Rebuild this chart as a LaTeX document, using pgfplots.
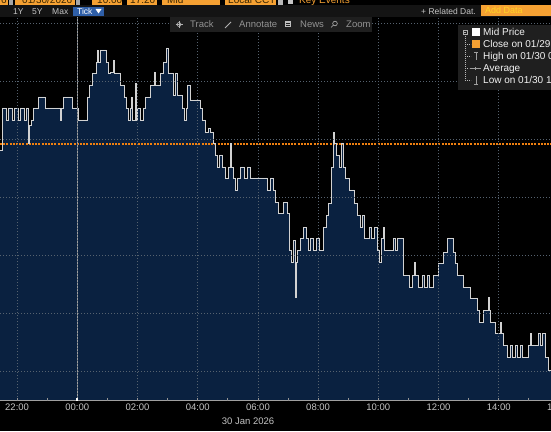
\documentclass[border=0pt]{standalone}
\usepackage{pgfplots}
\usepackage{pgfplotstable}
\pgfplotsset{compat=1.18}
\usepackage{fontspec}
\setmainfont{Liberation Sans}
\definecolor{bbnavy}{HTML}{0A2140}
\definecolor{bborange}{HTML}{F5A133}
\definecolor{bbclose}{HTML}{F08010}
\definecolor{bbline}{HTML}{D2D2D2}
\definecolor{bbgrid}{HTML}{56626F}
\definecolor{bbtext}{HTML}{C4C4C4}
\definecolor{bbbar}{HTML}{1F1F1F}
\definecolor{bbblue}{HTML}{2F5FA8}
\definecolor{bbrow}{HTML}{141414}
\definecolor{bbfieldtext}{HTML}{3A2600}

\pgfplotstableread{
x y
0 250
2 292
6 280
8 292
12 280
14 292
18 280
20 292
24 280
26 292
28 257
29 275
31 280
33 292
38 303
45 292
60 280
61 292
63 303
72 292
78 280
87 303
89 315
92 327
96 338
97 350
98 338
100 350
106 338
108 327
110 328
113 340
114 327
120 315
124 303
126 292
128 280
130 292
131 303
132 280
135 317
136 280
137 292
140 280
143 292
145 303
150 315
154 328
155 315
160 327
163 338
166 352
168 327
173 305
175 327
177 305
182 292
184 280
186 292
187 315
190 300
200 292
202 280
205 268
208 272
210 268
213 257
215 245
217 233
219 245
222 233
225 222
228 233
230 257
231 233
233 222
235 210
237 222
240 233
244 222
247 233
250 222
267 210
270 222
273 210
275 198
278 187
283 198
287 187
289 150
291 138
293 160
295 103
296 138
297 150
300 162
303 173
306 162
308 150
310 162
313 150
316 162
319 150
323 173
326 185
328 197
331 233
333 268
334 257
336 245
339 233
341 257
343 233
345 222
349 210
354 197
357 185
360 173
362 185
364 162
369 173
371 162
374 173
377 150
379 138
381 162
383 173
384 150
393 162
395 150
397 162
403 125
409 113
412 125
414 138
415 125
418 113
422 125
424 113
427 125
429 113
433 125
438 137
443 148
447 162
453 148
455 137
457 125
463 113
470 102
477 90
479 78
483 90
488 103
489 90
490 78
495 67
500 78
501 67
503 55
507 43
510 55
512 43
515 55
517 43
520 55
522 43
528 55
530 67
531 55
538 67
540 55
542 67
545 43
548 30
551 30
}\pricedata

\begin{document}
\begin{tikzpicture}[x=1bp,y=1bp]
\clip (0,0) rectangle (551,431);
\fill[black] (0,0) rectangle (551,431);
\begin{axis}[
  at={(0bp,31bp)}, anchor=south west,
  scale only axis, width=551bp, height=383bp,
  xmin=0, xmax=551, ymin=0, ymax=383,
  axis line style={draw=none},
  axis on top,
  xtick={17.1,77.3,137.5,197.7,257.9,318.1,378.3,438.5,498.7},
  xticklabels={22:00,00:00,02:00,04:00,06:00,08:00,10:00,12:00,14:00},
  minor xtick={47.2,107.4,167.6,227.8,288,348.2,408.4,468.6,528.8},
  xtick pos=bottom,
  tick align=inside,
  major tick length=3bp, minor tick length=3bp,
  every tick/.style={draw=none},
  ytick={29,87,145,203,261,319,377},
  yticklabels={},
  ytick style={draw=none},
  grid=major,
  major grid style={bbgrid, dash pattern=on 1bp off 2bp, line width=0.6bp},
  xticklabel style={font=\fontsize{9.5bp}{11bp}\selectfont, text=bbtext, inner sep=0pt, anchor=north, yshift=-4bp},
  /pgf/number format/assume math mode=true,
]
\addplot[fill=bbnavy, draw=none, const plot] table[x=x,y=y] {\pricedata} \closedcycle;
\addplot[draw=bbclose, dash pattern=on 2bp off 1.2bp, line width=1.7bp, mark=none] coordinates {(0,256.3) (551,256.3)};
\addplot[bbline, line width=0.8bp, const plot] table[x=x,y=y] {\pricedata};
\draw[gray!75, line width=0.8bp] (axis cs:77.3,0) -- (axis cs:77.3,383);
\end{axis}
% bottom axis line and ticks
\draw[gray!75, line width=0.8bp] (0,30.5) -- (551,30.5);
\foreach \t in {47.2,107.4,167.6,227.8,288,348.2,408.4,468.6,528.8,17.1,137.5,197.7,257.9,318.1,378.3,438.5,498.7}
  \draw[gray!85, line width=0.7bp] (\t,30.5) -- (\t,33.5);
\fill[white] (76.3,30.5) rectangle (78.3,33.5);
\node[font=\fontsize{9.5bp}{11bp}\selectfont, text=bbtext, inner sep=0pt, anchor=north] at (558.9,27) {16:00};
\node[font=\fontsize{9.5bp}{11bp}\selectfont, text=bbtext] at (248,10) {30 Jan 2026};

% top toolbar row 2 background
\fill[bbrow] (0,414) rectangle (551,426);
% row 1 fields
\fill[black] (0,426) rectangle (551,431);
\fill[bborange] (0,426) rectangle (8,431);
\fill[gray!70] (9,426) rectangle (13,431);
\fill[bborange] (15,426) rectangle (75,431);
\fill[gray!70] (76,426) rectangle (80,431);
\fill[bborange] (92,426) rectangle (122,431);
\fill[bborange] (127,426) rectangle (157,431);
\fill[bborange] (162,426) rectangle (220,431);
\fill[bborange] (225,426) rectangle (276,431);
\fill[gray!55] (278,426) rectangle (283,431);
\fill[gray!45] (288,427) rectangle (293,431);
\begin{scope}[every node/.style={font=\fontsize{10bp}{11bp}\selectfont, inner sep=0pt, anchor=base west}]
\node[text=bbfieldtext] at (1,427.5) {6};
\node[text=bbfieldtext] at (22,427.5) {01/30/2026};
\node[text=bbfieldtext] at (97,427.5) {10:00};
\node[text=bbfieldtext] at (130,427.5) {17:20};
\node[text=bbfieldtext] at (167,427.5) {Mid};
\node[text=bbfieldtext] at (228,427.5) {Local CCT};
\node[text=bborange] at (299,427.5) {Key Events};
\end{scope}
% row 2
\fill[bbblue] (73,415) rectangle (104,424);
\begin{scope}[every node/.style={font=\fontsize{8.5bp}{10bp}\selectfont, inner sep=0pt, anchor=base west}]
\node[text=bbtext] at (13,416.8) {1Y};
\node[text=bbtext] at (32,416.8) {5Y};
\node[text=bbtext] at (52,416.8) {Max};
\node[text=white] at (77,416.8) {Tick};
\node[text=bbtext] at (421,416.8) {+ Related Dat.};
\end{scope}
\fill[white] (95.5,422) -- (101.5,422) -- (98.5,417.5) -- cycle;
\fill[bborange] (481,415) rectangle (551,426);
\node[font=\fontsize{9bp}{10bp}\selectfont, inner sep=0pt, anchor=base west, text=orange!40!yellow!85!white] at (485,417) {Add Data};

% track bar
\fill[bbbar] (170,399) rectangle (372,414);
\begin{scope}[every node/.style={font=\fontsize{9.5bp}{11bp}\selectfont, inner sep=0pt, anchor=base west, text=gray!85}]
\node at (190,403) {Track};
\node at (239,403) {Annotate};
\node at (300,403) {News};
\node at (346,403) {Zoom};
\end{scope}
\draw[gray!60, line width=0.6bp] (175.5,406.5) -- (182.5,406.5) (179,403) -- (179,410);
\draw[gray!60, line width=0.6bp] (179,406.5) circle (2bp);
\draw[gray!60, line width=0.8bp] (225,403) -- (231,409);
\fill[gray!50] (285,403.5) rectangle (291,409.5);
\draw[bbbar, line width=0.5bp] (286,405.5) -- (290,405.5) (286,407.5) -- (290,407.5);
\draw[gray!60, line width=0.6bp] (335,407.5) circle (2.3bp) (333.3,405.8) -- (331,403.5);

% legend
\fill[bbbar] (458,341) rectangle (551,406);
\draw[gray!60, line width=0.5bp] (463,397) rectangle (467,401) (464,399) -- (466,399);
\draw[gray!55, dash pattern=on 1bp off 1bp, line width=0.5bp] (465,397) -- (465,351) (465,387) -- (471,387) (465,375) -- (471,375) (465,363) -- (469,363) (465,351) -- (471,351);
\fill[white] (472,395) rectangle (480,403);
\fill[bborange] (472,383) rectangle (480,391);
\draw[gray!75, line width=0.6bp] (476,371) -- (476,379) (474,379) -- (478,379);
\draw[gray!75, line width=0.6bp] (470,363) -- (481,363) (475.5,361.5) -- (475.5,364.5);
\draw[gray!75, line width=0.6bp] (476,347) -- (476,355) (474,347) -- (478,347);
\begin{scope}[every node/.style={font=\fontsize{10bp}{11bp}\selectfont, inner sep=0pt, anchor=base west, text=white!90!gray}]
\node at (483,395.5) {Mid Price};
\node at (483,383.5) {Close on 01/29};
\node at (483,371.5) {High on 01/30 0};
\node at (483,359.5) {Average};
\node at (483,347.5) {Low on 01/30 1};
\end{scope}
\end{tikzpicture}
\end{document}
